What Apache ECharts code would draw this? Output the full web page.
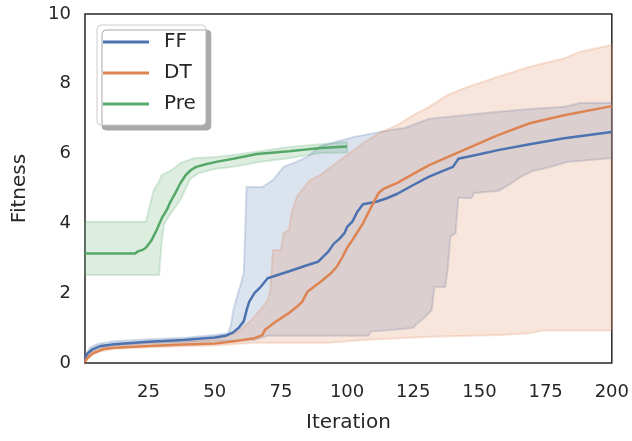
<!DOCTYPE html>
<html>
<head>
<meta charset="utf-8">
<script src="https://cdn.jsdelivr.net/npm/echarts@6/dist/echarts.min.js"></script>
<style>
  html, body { margin: 0; padding: 0; background: #fff; }
  #chart { width: 632px; height: 441px; }
</style>
</head>
<body>
<div id="chart"></div>
<script>
// mean curves, [iteration, fitness]
const ffMean = [[1,0.14],[2,0.28],[4,0.4],[7,0.49],[12,0.54],[25,0.61],[38,0.66],[50,0.73],[54,0.78],[57,0.88],[59,1.0],[61,1.2],[62,1.5],[63,1.75],[65,2.0],[67,2.15],[70,2.43],[77,2.6],[84,2.78],[89,2.9],[91,3.05],[93,3.2],[95,3.42],[97,3.55],[99,3.72],[100,3.9],[102,4.05],[104,4.35],[106,4.55],[111,4.62],[115,4.72],[119,4.85],[125,5.1],[131,5.34],[136,5.5],[140,5.62],[142,5.85],[150,5.98],[157,6.1],[169,6.27],[182,6.44],[200,6.62]];
const dtMean = [[1,0.04],[2,0.15],[4,0.28],[8,0.4],[12,0.44],[25,0.49],[38,0.53],[50,0.56],[58,0.63],[65,0.71],[68,0.8],[69,0.95],[73,1.18],[78,1.43],[81,1.61],[83,1.75],[85,2.04],[90,2.33],[94,2.58],[96,2.75],[98,3.0],[100,3.3],[102,3.52],[104,3.76],[106,4.0],[108,4.3],[110,4.6],[112,4.88],[114,5.0],[119,5.16],[125,5.42],[131,5.67],[144,6.1],[157,6.53],[169,6.87],[182,7.1],[200,7.36]];
const preMean = [[1,3.14],[20,3.14],[21,3.2],[23,3.25],[24,3.3],[26,3.5],[28,3.8],[30,4.15],[32,4.4],[33,4.58],[35,4.85],[37,5.15],[39,5.38],[41,5.53],[43,5.62],[47,5.7],[51,5.77],[57,5.85],[66,5.99],[78,6.07],[90,6.16],[100,6.2]];

// band edges
const ffUpper = [[1,0.2],[3,0.45],[6,0.55],[12,0.62],[25,0.68],[38,0.72],[50,0.8],[55,0.85],[56,1.05],[57,1.5],[58,1.8],[60,2.3],[61,2.6],[62,5.04],[68,5.04],[72,5.24],[76,5.62],[81,5.77],[85,5.91],[90,6.22],[96,6.34],[103,6.48],[113,6.63],[122,6.74],[131,7.0],[144,7.1],[157,7.2],[169,7.28],[182,7.34],[188,7.45],[200,7.46]];
const ffLower = [[1,0.05],[3,0.3],[6,0.4],[12,0.48],[25,0.55],[50,0.62],[65,0.66],[70,0.78],[108,0.78],[109,0.9],[125,1.0],[126,1.1],[129,1.29],[132,1.52],[133,2.18],[137,2.18],[138,2.66],[139,3.62],[141,3.72],[142,4.73],[147,4.73],[148,4.87],[157,4.93],[160,5.05],[166,5.35],[170,5.5],[176,5.6],[183,5.76],[200,5.87]];
const dtUpper = [[1,0.1],[3,0.35],[6,0.45],[12,0.52],[25,0.58],[40,0.62],[50,0.68],[54,0.75],[59,0.9],[62,1.1],[65,1.33],[68,1.6],[70,1.8],[71,2.1],[72,3.24],[75,3.24],[76,3.72],[78,3.81],[79,4.3],[81,4.77],[83,4.96],[86,5.24],[90,5.39],[94,5.63],[100,5.96],[106,6.3],[112,6.58],[119,6.82],[125,7.1],[131,7.34],[138,7.68],[144,7.87],[157,8.2],[169,8.49],[182,8.73],[188,8.92],[200,9.11]];
const dtLower = [[1,0.0],[3,0.2],[6,0.32],[12,0.4],[25,0.45],[50,0.5],[65,0.58],[93,0.58],[106,0.66],[131,0.75],[158,0.8],[169,0.85],[174,0.93],[200,0.93]];
const preUpper = [[1,4.05],[24,4.05],[25,4.38],[27,4.96],[29,5.2],[30,5.39],[33,5.5],[35,5.6],[37,5.73],[42,5.87],[50,5.9],[57,5.96],[66,6.05],[78,6.19],[90,6.27],[100,6.33]];
const preLower = [[1,2.52],[29,2.52],[30,3.5],[31,4.0],[33,4.24],[37,4.67],[39,5.0],[41,5.3],[44,5.44],[50,5.56],[57,5.62],[63,5.7],[66,5.75],[78,5.87],[90,6.02],[100,6.03]];

const xTicks = [25, 50, 75, 100, 125, 150, 175, 200];

const BLUE = '#4c72b0', ORANGE = '#dd8452', GREEN = '#55a868';
const FONT = 'DejaVu Sans';

function rgba(hex, a) {
    const n = parseInt(hex.slice(1), 16);
    return `rgba(${n >> 16},${(n >> 8) & 255},${n & 255},${a})`;
}

function band(name, upper, lower, color) {
    return {
        type: 'custom',
        name: name,
        silent: true,
        z: 1,
        data: [upper[0]],
        renderItem: (params, api) => {
            const pts = upper.map(p => api.coord(p))
                .concat(lower.slice().reverse().map(p => api.coord(p)));
            return {
                type: 'polygon',
                shape: { points: pts },
                style: { fill: rgba(color, 0.2), stroke: rgba(color, 0.22), lineWidth: 2 }
            };
        }
    };
}

function meanLine(name, data, color) {
    return {
        type: 'line', name: name, data: data, showSymbol: false, z: 3,
        lineStyle: { color: color, width: 2.5 }, itemStyle: { color: color }
    };
}

const chart = echarts.init(document.getElementById('chart'));
chart.setOption({
    animation: false,
    backgroundColor: '#fff',
    grid: { left: 85, right: 20, top: 14, bottom: 78, show: true, borderColor: '#262626', borderWidth: 1.5 },
    legend: {
        data: ['FF', 'DT', 'Pre'],
        orient: 'vertical', left: 97, top: 25,
        padding: [7, 10, 11, 6], itemGap: 11,
        icon: 'rect', itemWidth: 46, itemHeight: 3,
        backgroundColor: '#fff', borderColor: '#cccccc', borderWidth: 1, borderRadius: 4,
        shadowColor: '#a8a8a8', shadowBlur: 0, shadowOffsetX: 5, shadowOffsetY: 5,
        textStyle: { fontFamily: FONT, fontSize: 20, color: '#262626', padding: [0, 0, 0, 10] }
    },
    xAxis: {
        type: 'value', min: 1, max: 200,
        name: 'Iteration', nameLocation: 'middle', nameGap: 50,
        nameTextStyle: { fontFamily: FONT, fontSize: 20, color: '#262626' },
        axisLine: { show: false }, axisTick: { show: false }, splitLine: { show: false },
        axisLabel: { customValues: xTicks, margin: 20, fontFamily: FONT, fontSize: 18, color: '#262626' }
    },
    yAxis: {
        type: 'value', min: 0, max: 10, interval: 2,
        name: 'Fitness', nameLocation: 'middle', nameGap: 55,
        nameTextStyle: { fontFamily: FONT, fontSize: 20, color: '#262626' },
        axisLine: { show: false }, axisTick: { show: false }, splitLine: { show: false },
        axisLabel: { margin: 14, fontFamily: FONT, fontSize: 18, color: '#262626' }
    },
    series: [
        band('FF band', ffUpper, ffLower, BLUE),
        band('DT band', dtUpper, dtLower, ORANGE),
        band('Pre band', preUpper, preLower, GREEN),
        meanLine('FF', ffMean, BLUE),
        meanLine('DT', dtMean, ORANGE),
        meanLine('Pre', preMean, GREEN)
    ]
});
</script>
</body>
</html>
